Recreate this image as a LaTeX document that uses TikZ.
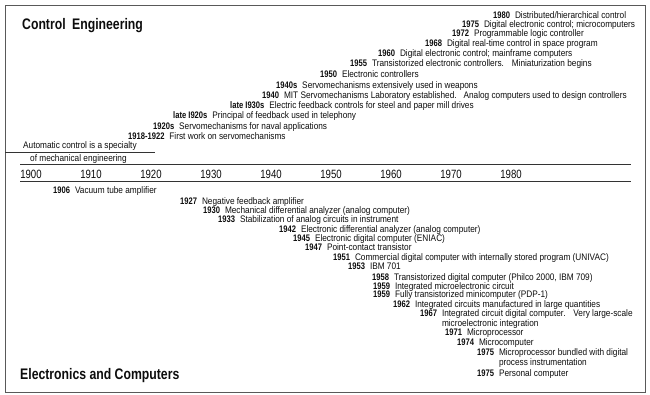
\documentclass[tikz,border=0pt]{standalone}
\usepackage{fontspec}
\setmainfont[FakeStretch=0.8]{Liberation Sans}
\newfontfamily\evfont[FakeStretch=0.87]{Liberation Sans}
\newcommand\ev[5]{%
  \node[yr] (#1y) at (#2,{#3+3.4}) {#4};
  \node[evt] (#1t) at ([xshift=4.5pt]#1y.base east) {#5};}
\begin{document}
\begin{tikzpicture}[x=1pt,y=-1pt,
  yr/.style={anchor=base west, inner sep=0pt, text=black!95, font=\fontsize{9.5}{10}\selectfont\bfseries},
  evt/.style={anchor=base west, inner sep=0pt, text=black!95, font=\evfont\fontsize{9.5}{10}\selectfont},
  head/.style={anchor=base west, inner sep=0pt, text=black!95, font=\fontsize{15.3}{18}\selectfont\bfseries},
  axislbl/.style={anchor=base, inner sep=0pt, text=black!95, font=\fontsize{12}{14}\selectfont},
  rulel/.style={line width=0.9pt, black!80},
  framel/.style={line width=0.9pt, black!65}]
\useasboundingbox (0,0) rectangle (650,395);
\draw[framel] (5,5) rectangle (645,392);
% headings
\node[head] (hce) at (22,30) {Control\hspace{0.2em} Engineering};
\node[head] (hec) at (20,379) {Electronics and Computers};
% control engineering events
\ev{c1980}{493}{15}{1980}{Distributed/hierarchical control}
\ev{c1975}{462}{24}{1975}{Digital electronic control; microcomputers}
\ev{c1972}{452}{33}{1972}{Programmable logic controller}
\ev{c1968}{425}{43}{1968}{Digital real-time control in space program}
\ev{c1960}{378}{53}{1960}{Digital electronic control; mainframe computers}
\ev{c1955}{350}{63}{1955}{Transistorized electronic controllers.\hspace{0.5em} Miniaturization begins}
\ev{c1950}{320}{74}{1950}{Electronic controllers}
\ev{c1940s}{276}{85}{1940s}{Servomechanisms extensively used in weapons}
\ev{c1940}{262}{95}{1940}{MIT Servomechanisms Laboratory established.\hspace{0.4em} Analog computers used to design controllers}
\ev{c1930s}{230}{105}{late I930s}{Electric feedback controls for steel and paper mill drives}
\ev{c1920l}{173}{115}{late I920s}{Principal of feedback used in telephony}
\ev{c1920s}{153}{126}{1920s}{Servomechanisms for naval applications}
\ev{c1918}{128}{136}{1918-1922}{First work on servomechanisms}
\node[evt] (spec1) at (23,148.5) {Automatic control is a specialty};
\node[evt] (spec2) at (30,161.5) {of mechanical engineering};
% rules
\coordinate (r1a) at (5,152);  \coordinate (r1b) at (155,152);
\coordinate (r2a) at (20,164); \coordinate (r2b) at (631,164);
\coordinate (r3a) at (20,181); \coordinate (r3b) at (631,181);
\draw[rulel] (r1a) -- (r1b);
\draw[rulel] (r2a) -- (r2b);
\draw[rulel] (r3a) -- (r3b);
% axis years
\foreach \k/\yy in {0/1900,1/1910,2/1920,3/1930,4/1940,5/1950,6/1960,7/1970,8/1980}
  \node[axislbl] (ax\yy) at ({31+60*\k},178.3) {\yy};
% electronics events
\ev{e1906}{53}{190}{1906}{Vacuum tube amplifier}
\ev{e1927}{180}{201}{1927}{Negative feedback amplifier}
\ev{e1930}{203}{210}{1930}{Mechanical differential analyzer (analog computer)}
\ev{e1933}{218}{219}{1933}{Stabilization of analog circuits in instrument}
\ev{e1942}{279}{229}{1942}{Electronic differential analyzer (analog computer)}
\ev{e1945}{293}{238}{1945}{Electronic digital computer (ENIAC)}
\ev{e1947}{305}{247}{1947}{Point-contact transistor}
\ev{e1951}{333}{257}{1951}{Commercial digital computer with internally stored program (UNIVAC)}
\ev{e1953}{348}{266}{1953}{IBM 701}
\ev{e1958}{372}{277}{1958}{Transistorized digital computer (Philco 2000, IBM 709)}
\ev{e1959a}{373}{286}{1959}{Integrated microelectronic circuit}
\ev{e1959b}{373}{294}{1959}{Fully transistorized minicomputer (PDP-1)}
\ev{e1962}{393}{304}{1962}{Integrated circuits manufactured in large quantities}
\ev{e1967}{420}{313}{1967}{Integrated circuit digital computer.\hspace{0.5em} Very large-scale}
\node[evt] (e1967c) at ([yshift=-10pt]e1967t.base west) {microelectronic integration};
\ev{e1971}{445}{332}{1971}{Microprocessor}
\ev{e1974}{457}{342}{1974}{Microcomputer}
\ev{e1975a}{477}{352}{1975}{Microprocessor bundled with digital}
\node[evt] (e1975c) at ([yshift=-10pt]e1975at.base west) {process instrumentation};
\ev{e1975b}{477}{373}{1975}{Personal computer}
\end{tikzpicture}
\end{document}
